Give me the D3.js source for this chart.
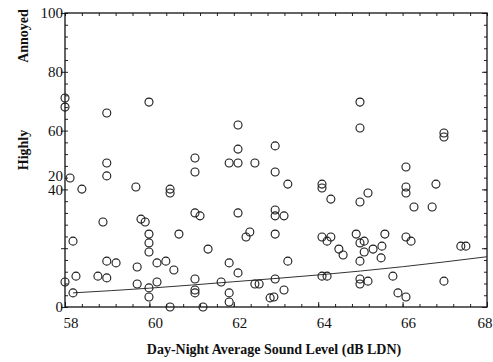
<!DOCTYPE html>
<html>
<head>
<meta charset="utf-8">
<script src="https://cdn.jsdelivr.net/npm/d3@7"></script>
<style>
  body { margin: 0; background: #fff; }
  text { font-family: "Liberation Serif", "Times New Roman", serif; fill: #111; }
</style>
</head>
<body>
<div id="chart"></div>
<script>
// observed points (sound level, % highly annoyed)
const levels = [
    58.00, 58.00, 58.99, 59.99, 62.10, 64.99, 64.99, 62.10, 62.98, 66.98,
    66.98, 58.12, 58.40, 58.99, 58.99, 59.68, 60.49, 60.49, 61.08, 61.08,
    61.89, 62.10, 62.50, 62.98, 62.98, 66.08, 63.28, 64.09, 64.09, 64.30,
    64.99, 65.18, 66.08, 66.08, 66.79, 66.27, 66.70, 58.19, 58.00, 58.26,
    58.19, 58.90, 58.99, 59.21, 58.78, 58.99, 59.80, 59.90, 59.99, 59.99,
    59.99, 59.71, 59.71, 59.99, 59.99, 60.18, 60.39, 60.18, 60.58, 60.70,
    60.49, 61.08, 61.20, 61.08, 61.08, 61.08, 61.27, 61.39, 61.70, 61.89,
    62.10, 61.89, 61.89, 62.10, 62.29, 62.38, 62.50, 62.60, 62.86, 62.95,
    62.98, 62.98, 62.98, 63.19, 63.28, 63.19, 64.09, 64.21, 64.30, 64.49,
    64.59, 64.09, 64.21, 64.90, 64.99, 65.09, 65.09, 65.30, 65.51, 65.58,
    65.49, 64.99, 64.99, 64.99, 65.18, 65.77, 65.89, 66.08, 66.08, 66.20,
    66.98, 67.38, 67.50
];
const annoyed = [
    71.1, 68.0, 66.0, 69.7, 61.9, 69.7, 60.9, 53.7, 54.8, 59.2,
    57.8, 43.9, 40.1, 49.0, 44.6, 40.8, 40.1, 38.8, 50.7, 45.9,
    49.0, 49.0, 49.0, 45.9, 33.0, 47.6, 41.8, 41.8, 40.5, 36.7,
    35.7, 38.8, 40.8, 38.8, 41.8, 34.0, 34.0, 22.4, 8.5, 10.5,
    4.8, 28.9, 15.6, 15.0, 10.5, 9.9, 29.9, 28.9, 24.8, 21.8,
    18.7, 13.6, 7.8, 6.5, 3.4, 15.0, 15.6, 8.5, 12.6, 24.8,
    0.0, 32.0, 31.0, 9.5, 5.8, 4.8, 0.0, 19.7, 8.5, 15.0,
    11.6, 4.8, 1.7, 32.0, 23.8, 25.5, 7.8, 7.8, 3.1, 3.4,
    31.0, 24.8, 9.5, 31.0, 15.6, 5.8, 23.8, 22.4, 23.8, 19.7,
    17.7, 10.5, 10.5, 24.8, 21.8, 22.4, 18.7, 19.7, 20.7, 24.8,
    16.7, 15.6, 9.5, 7.8, 8.8, 10.5, 4.8, 3.4, 23.8, 22.4,
    8.8, 20.7, 20.7
];

// fitted curve
const fitLevels = [58.19, 60, 62, 64, 66, 68];
const fitAnnoyed = [4.8, 6.4, 8.6, 10.9, 13.7, 17.1];

// tick labels (the y labels are printed as they appear in the source)
const xTickValues = [58, 60, 62, 64, 66, 68];
const yLabelValues = [0, 44.6, 40, 60, 80, 100];
const yLabelTexts = ['0', '20', '40', '60', '80', '100'];
const yMajorTicks = [0, 20, 40, 60, 80, 100];

const margin = {top: 13, right: 6, bottom: 55, left: 65},
    width = 493 - margin.left - margin.right,
    height = 362 - margin.top - margin.bottom;

const x = d3.scaleLinear().domain([58, 68]).range([0, width]);
const y = d3.scaleLinear().domain([0, 100]).range([height, 0]);

const svg = d3.select('#chart')
    .append('svg')
    .attr('width', width + margin.left + margin.right)
    .attr('height', height + margin.top + margin.bottom)
    .append('g')
    .attr('transform', `translate(${margin.left},${margin.top})`);

const xMinor = d3.range(58, 68.001, 0.4);
const yMinor = d3.range(0, 100.001, 4);

function styleAxis(g) {
    g.selectAll('.domain').remove();
    g.selectAll('line').attr('stroke', '#222').attr('stroke-width', 1);
    g.selectAll('text').remove();
}

// minor ticks, all pointing inward
svg.append('g').attr('transform', `translate(0,${height})`)
    .call(d3.axisBottom(x).tickValues(xMinor).tickSize(-3)).call(styleAxis);
svg.append('g')
    .call(d3.axisTop(x).tickValues(xMinor).tickSize(-3)).call(styleAxis);
svg.append('g')
    .call(d3.axisLeft(y).tickValues(yMinor).tickSize(-3)).call(styleAxis);
svg.append('g').attr('transform', `translate(${width},0)`)
    .call(d3.axisRight(y).tickValues(yMinor).tickSize(-3)).call(styleAxis);

// major ticks
svg.append('g').attr('transform', `translate(0,${height})`)
    .call(d3.axisBottom(x).tickValues(xTickValues).tickSize(-5)).call(styleAxis);
svg.append('g')
    .call(d3.axisLeft(y).tickValues(yMajorTicks).tickSize(4)).call(styleAxis);
svg.append('g').attr('transform', `translate(${width},0)`)
    .call(d3.axisRight(y).tickValues(yMajorTicks).tickSize(-5)).call(styleAxis);

// frame
svg.append('rect')
    .attr('width', width)
    .attr('height', height)
    .attr('fill', 'none')
    .attr('stroke', '#111')
    .attr('stroke-width', 1.3);

// x tick labels (sit a little right of their ticks, last one kept inside)
svg.append('g')
    .selectAll('text')
    .data(xTickValues)
    .enter().append('text')
    .attr('x', d => Math.min(x(d) + 6, width - 2))
    .attr('y', height + 21)
    .attr('text-anchor', 'middle')
    .style('font-size', '15px')
    .text(d => d);

// y tick labels
svg.append('g')
    .selectAll('text')
    .data(yLabelValues)
    .enter().append('text')
    .attr('x', -2)
    .attr('y', d => y(d))
    .attr('dy', '0.35em')
    .attr('text-anchor', 'end')
    .style('font-size', '15px')
    .text((d, i) => yLabelTexts[i]);

// fit line
const fitData = fitLevels.map((v, i) => ({lvl: v, pct: fitAnnoyed[i]}));
const fitLine = d3.line()
    .x(d => x(d.lvl))
    .y(d => y(d.pct))
    .curve(d3.curveMonotoneX);
svg.append('path')
    .attr('d', fitLine(fitData))
    .attr('fill', 'none')
    .attr('stroke', '#333')
    .attr('stroke-width', 1);

// data circles
const points = levels.map((v, i) => ({lvl: v, pct: annoyed[i]}));
svg.selectAll('.data-circle')
    .data(points)
    .enter().append('circle')
    .attr('class', 'data-circle')
    .attr('r', 4)
    .attr('cx', d => x(d.lvl))
    .attr('cy', d => y(d.pct))
    .attr('fill', 'none')
    .attr('stroke', '#1a1a1a')
    .attr('stroke-width', 1.1);

// axis titles
svg.append('text')
    .attr('x', width / 2 - 2)
    .attr('y', height + 47)
    .attr('text-anchor', 'middle')
    .style('font-size', '14px')
    .style('font-weight', 'bold')
    .text('Day-Night Average Sound Level (dB LDN)');

svg.append('text')
    .attr('transform', `translate(${-37},${150 - margin.top}) rotate(-90)`)
    .attr('text-anchor', 'middle')
    .style('font-size', '14px')
    .style('font-weight', 'bold')
    .text('Highly');

svg.append('text')
    .attr('transform', `translate(${-37},${36 - margin.top}) rotate(-90)`)
    .attr('text-anchor', 'middle')
    .style('font-size', '14px')
    .style('font-weight', 'bold')
    .text('Annoyed');
</script>
</body>
</html>
